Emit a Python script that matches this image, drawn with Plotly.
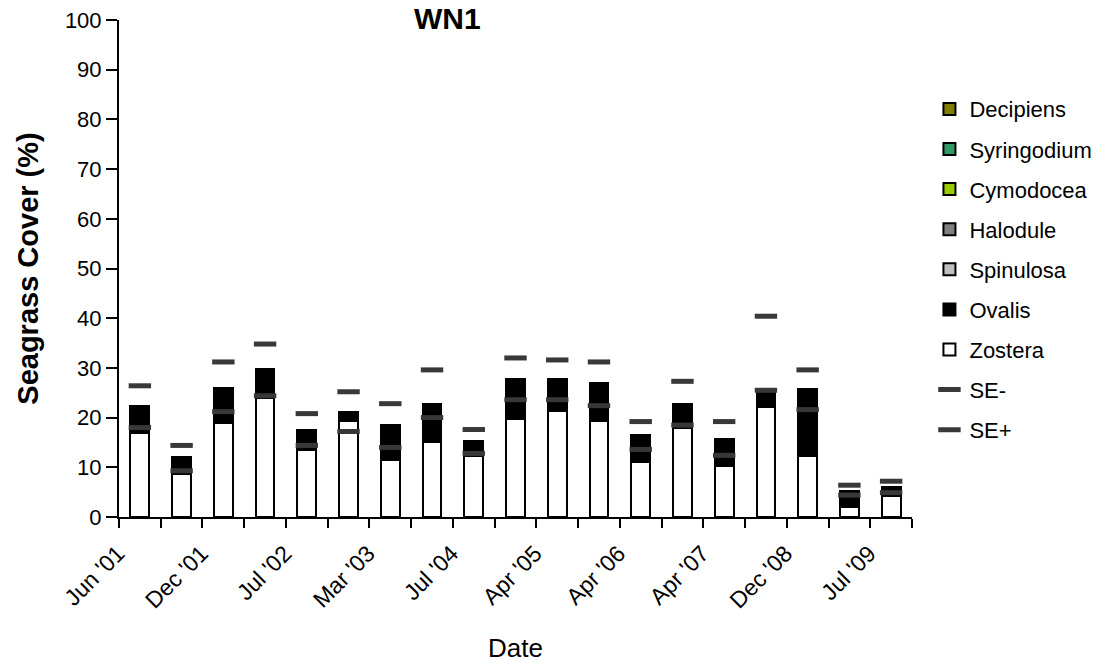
import plotly.graph_objects as go

# ---- data ----
survey_index = list(range(19))
tick_positions = [0, 2, 4, 6, 8, 10, 12, 14, 16, 18]
tick_labels = ["Jun '01", "Dec '01", "Jul '02", "Mar '03", "Jul '04",
               "Apr '05", "Apr '06", "Apr '07", "Dec '08", "Jul '09"]

zostera = [17.0, 8.75, 19.0, 23.9, 13.4, 19.3, 11.4, 15.0, 12.2, 19.8,
           21.4, 19.3, 11.0, 17.9, 10.2, 22.1, 12.2, 2.1, 4.2]
ovalis = [5.4, 3.35, 7.0, 5.8, 4.2, 1.9, 7.1, 7.8, 3.0, 7.9,
          6.3, 7.6, 5.5, 4.9, 5.5, 3.6, 13.5, 3.1, 1.8]
spinulosa = [0] * 19
halodule = [0] * 19
cymodocea = [0] * 19
syringodium = [0] * 19
decipiens = [0] * 19
se_minus = [18.0, 9.3, 21.2, 24.4, 14.4, 17.2, 14.0, 20.0, 12.8, 23.6,
            23.6, 22.4, 13.6, 18.5, 12.4, 25.5, 21.6, 4.4, 4.9]
se_plus = [26.4, 14.4, 31.2, 34.8, 20.8, 25.2, 22.8, 29.6, 17.6, 32.0,
           31.6, 31.2, 19.2, 27.3, 19.2, 40.4, 29.6, 6.4, 7.2]

FONT = "Liberation Sans, Arial, sans-serif"

fig = go.Figure()

stack = [
    ("Zostera", zostera, "#FFFFFF", 7),
    ("Ovalis", ovalis, "#000000", 6),
    ("Spinulosa", spinulosa, "#C0C0C0", 5),
    ("Halodule", halodule, "#808080", 4),
    ("Cymodocea", cymodocea, "#99CC00", 3),
    ("Syringodium", syringodium, "#339966", 2),
    ("Decipiens", decipiens, "#808000", 1),
]
for name, vals, color, rank in stack:
    fig.add_trace(go.Bar(
        x=survey_index, y=vals, name=name, width=0.45,
        marker=dict(color=color, line=dict(color="#000000", width=2)),
        legendrank=rank, legendgroup=name,
    ))

for name, vals, rank in [("SE-", se_minus, 8), ("SE+", se_plus, 9)]:
    fig.add_trace(go.Scatter(
        x=survey_index, y=vals, name=name, mode="markers",
        marker=dict(symbol="line-ew", size=16, color="#383838",
                    line=dict(color="#383838", width=5)),
        legendrank=rank, legendgroup=name,
    ))

fig.update_layout(
    width=1108, height=671,
    barmode="stack",
    paper_bgcolor="white", plot_bgcolor="white",
    margin=dict(l=119, r=196, t=20, b=154, autoexpand=False),
    font=dict(family=FONT, size=22, color="black"),
    title=dict(text="<b>WN1</b>", font=dict(size=30, family=FONT),
               x=0.414, xref="paper", xanchor="center",
               y=0.972, yref="container", yanchor="middle"),
    showlegend=True,
    legend=dict(x=1.022, xanchor="left", y=0.863, yanchor="top",
                font=dict(size=22, family=FONT), tracegroupgap=8.5,
                itemwidth=30, bgcolor="rgba(0,0,0,0)"),
    bargap=0.55,
)

fig.update_xaxes(
    range=[-0.5, 18.5],
    tickmode="array", tickvals=tick_positions, ticktext=tick_labels,
    tickangle=-45, ticks="",
    ticklabelshift=-22, ticklabelstandoff=12,
    minor=dict(tickmode="linear", tick0=-0.5, dtick=1, ticks="outside",
               ticklen=9, tickwidth=2, tickcolor="black"),
    showline=True, linewidth=2, linecolor="black",
    showgrid=False, zeroline=False,
    tickfont=dict(size=23, family=FONT),
    title=dict(text="Date", font=dict(size=26, family=FONT), standoff=26),
)
fig.update_yaxes(
    range=[0, 100], dtick=10,
    ticks="outside", ticklen=11, tickwidth=2, tickcolor="black",
    showline=True, linewidth=2, linecolor="black",
    showgrid=False, zeroline=False,
    tickfont=dict(size=22, family=FONT),
    title=dict(text="<b>Seagrass Cover (%)</b>", font=dict(size=29, family=FONT), standoff=18),
)

fig.write_html("out.html", config={"displayModeBar": False},
               post_script="document.body.style.margin='0';")
